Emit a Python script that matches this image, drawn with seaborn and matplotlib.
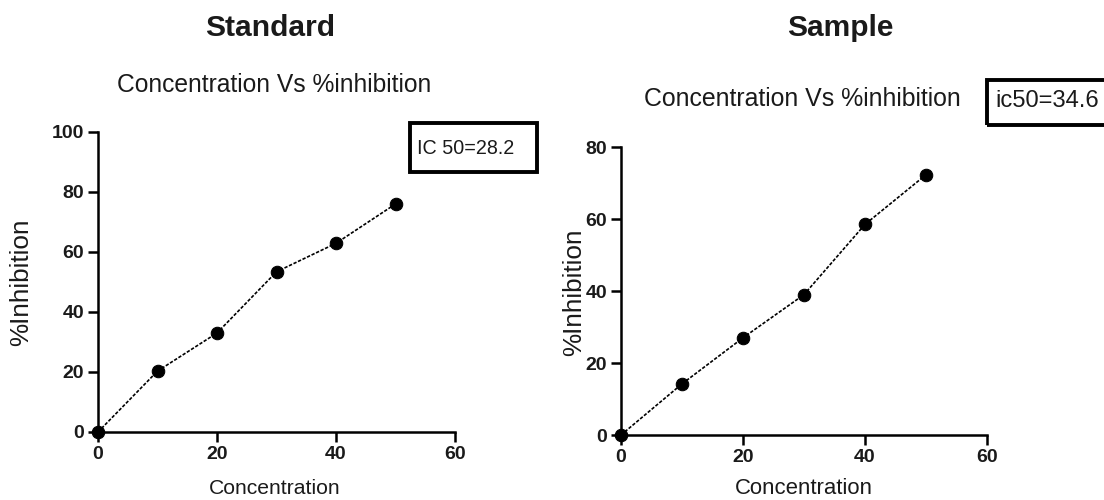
"""
Standard vs Sample - concentration vs % inhibition, two panels.
"""

import matplotlib
matplotlib.use('Agg')
import matplotlib.pyplot as plt
import seaborn as sns
from matplotlib import font_manager
from matplotlib.patches import Rectangle

# Data
concentration = [0, 10, 20, 30, 40, 50]
standard_inhibition = [0, 20.3, 33.0, 53.4, 62.9, 76.0]
sample_inhibition = [0, 14.2, 27.0, 39.0, 58.5, 72.3]
standard_yticks = [0, 20, 40, 60, 80, 100]
sample_yticks = [0, 20, 40, 60, 80]
xticks = [0, 20, 40, 60]

sns.set_style('ticks')

# pick the narrowest sans that is installed
names = {f.name for f in font_manager.fontManager.ttflist}
if 'Liberation Sans Narrow' in names:
    base = 'Liberation Sans Narrow'
elif 'Liberation Sans' in names:
    base = 'Liberation Sans'
else:
    base = 'DejaVu Sans'
fam = [base, 'DejaVu Sans']
plt.rcParams['font.family'] = fam

W, H = 1104, 500
fig = plt.figure(figsize=(W / 100, H / 100), dpi=100)
renderer = fig.canvas.get_renderer()


def px(x, y):
    return x / W, 1 - y / H


def fit_text(x, y, s, width, size, **kw):
    # place a text centred at (x, y) in pixels, sized so its width matches
    t = fig.text(*px(x, y), s, ha='center', va='center', fontsize=size, **kw)
    w = t.get_window_extent(renderer).width
    t.set_fontsize(size * width / w)
    return t


def panel(rect, y, yticks, ymax):
    ax = fig.add_axes(rect)
    sns.lineplot(x=concentration, y=y, ax=ax, color='black', marker='o',
                 markersize=9, markeredgecolor='black', linewidth=1.2,
                 linestyle=(0, (2, 1)), clip_on=False)
    ax.set_xlim(0, 60)
    ax.set_ylim(0, ymax)
    ax.set_xticks(xticks)
    ax.set_yticks(yticks)
    sns.despine(ax=ax)
    for s in ['left', 'bottom']:
        ax.spines[s].set_linewidth(1.8)
        ax.spines[s].set_color('black')
    ax.tick_params(width=1.8, length=7, color='black', pad=3)
    for lab in ax.get_xticklabels() + ax.get_yticklabels():
        lab.set_fontsize(14)
        lab.set_fontweight('bold')
        lab.set_family(fam)
        lab.set_color('#1a1a1a')
    ax.set_xlabel('')
    ax.set_ylabel('')
    return ax


ax1 = panel([98 / W, 68 / H, 357 / W, 300 / H], standard_inhibition, standard_yticks, 100)
ax2 = panel([621 / W, 65 / H, 366 / W, 288 / H], sample_inhibition, sample_yticks, 80)

# titles
fit_text(270, 28, 'Standard', 130, 20, fontweight='bold', color='#1a1a1a',
         family=['Liberation Sans', 'DejaVu Sans'])
fit_text(840, 28, 'Sample', 106, 20, fontweight='bold', color='#1a1a1a',
         family=['Liberation Sans', 'DejaVu Sans'])
fit_text(274, 85, 'Concentration Vs %inhibition', 315, 18, color='#1a1a1a')
fit_text(802, 99, 'Concentration Vs %inhibition', 318, 18, color='#1a1a1a')

# axis labels
t = fit_text(21, 282, '%Inhibition', 128, 16, color='#1a1a1a')
t.set_rotation(90)
t = fit_text(574, 292, '%Inhibition', 128, 16, color='#1a1a1a')
t.set_rotation(90)
fit_text(275, 489, 'Concentration', 132, 16, color='#1a1a1a')
fit_text(804, 489, 'Concentration', 138, 16, color='#1a1a1a')

# IC50 boxes
x0, y1 = px(410, 172)
fig.patches.append(Rectangle((x0, y1), 127 / W, 49 / H, transform=fig.transFigure,
                             fill=False, edgecolor='black', linewidth=2.8))
fit_text(466, 148, 'IC 50=28.2', 97, 18, color='#1a1a1a')
x0, y1 = px(987, 125)
fig.patches.append(Rectangle((x0, y1), 140 / W, 45 / H, transform=fig.transFigure,
                             fill=False, edgecolor='black', linewidth=2.8))
fit_text(1047, 101, 'ic50=34.6', 104, 18, color='#1a1a1a')

plt.savefig('out.png', dpi=100)
